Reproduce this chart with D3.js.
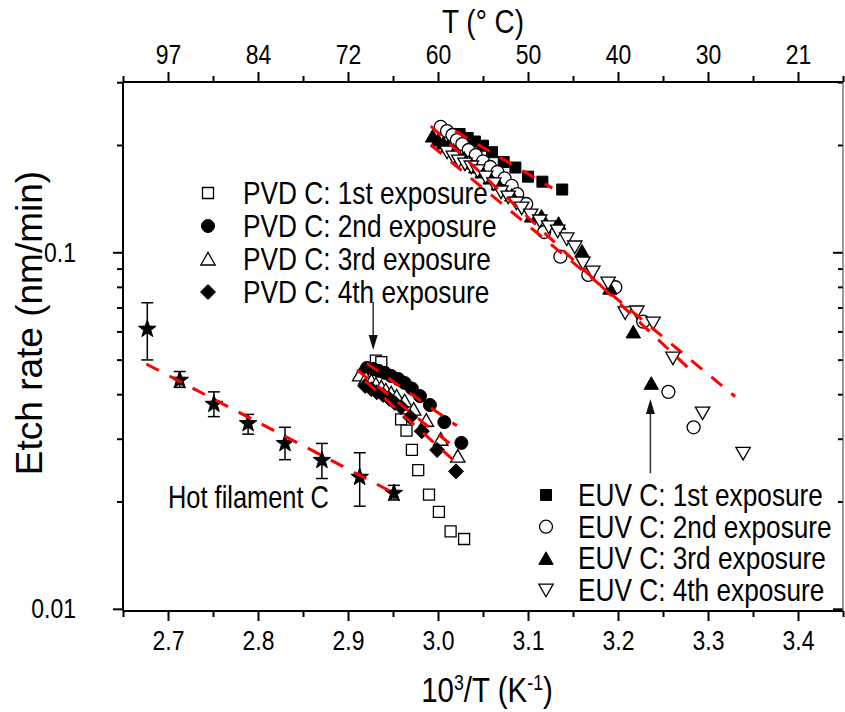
<!DOCTYPE html>
<html>
<head>
<meta charset="utf-8">
<script src="https://cdn.jsdelivr.net/npm/d3@7"></script>
<style>
  html, body { margin: 0; padding: 0; background: #fff; }
  svg { display: block; }
</style>
</head>
<body>
<svg id="chart" width="845" height="712"></svg>
<script>
// ---------- data: etch rate (nm/min) vs 1000/T (1/K) ----------
// Hot filament carbon, with error bars
const hotX   = [2.677, 2.713, 2.751, 2.789, 2.830, 2.871, 2.913, 2.951];
const hotY   = [0.0609, 0.0438, 0.0375, 0.0331, 0.0291, 0.0261, 0.0234, 0.0211];
const hotHi  = [0.0722, 0.0463, 0.0406, 0.0351, 0.0323, 0.0291, 0.0274, 0.0222];
const hotLo  = [0.0499, 0.0418, 0.0346, 0.0309, 0.0262, 0.0232, 0.0194, 0.0202];

// PVD carbon, four exposures
const pvd1X = [2.931, 2.937, 2.959, 2.965, 2.971, 2.978, 2.990, 3.001, 3.014, 3.029];
const pvd1Y = [0.0497, 0.0492, 0.0340, 0.0316, 0.0279, 0.0245, 0.0209, 0.0187, 0.0165, 0.0157];
const pvd2X = [2.921, 2.928, 2.934, 2.941, 2.948, 2.956, 2.963, 2.971, 2.980, 2.991, 3.007, 3.026];
const pvd2Y = [0.0474, 0.0471, 0.0465, 0.0459, 0.0450, 0.0441, 0.0430, 0.0415, 0.0395, 0.0373, 0.0334, 0.0292];
const pvd3X = [2.913, 2.920, 2.926, 2.931, 2.937, 2.942, 2.948, 2.954, 2.963, 2.973, 2.987, 3.003, 3.022];
const pvd3Y = [0.0453, 0.0444, 0.0436, 0.0427, 0.0419, 0.0411, 0.0403, 0.0395, 0.0383, 0.0363, 0.0338, 0.0299, 0.0268];
const pvd4X = [2.919, 2.926, 2.932, 2.939, 2.946, 2.952, 2.959, 2.969, 2.982, 2.999, 3.020];
const pvd4Y = [0.0422, 0.0413, 0.0405, 0.0398, 0.0388, 0.0378, 0.0368, 0.0345, 0.0315, 0.0279, 0.0243];

// EUV carbon, four exposures
const euv1X = [3.024, 3.033, 3.041, 3.050, 3.060, 3.073, 3.086, 3.100, 3.116, 3.138];
const euv1Y = [0.2147, 0.2092, 0.2045, 0.1991, 0.1909, 0.1792, 0.1729, 0.1630, 0.1578, 0.1500];
const euv2X = [3.003, 3.010, 3.016, 3.021, 3.027, 3.034, 3.042, 3.050, 3.058, 3.066, 3.074,
               3.082, 3.088, 3.098, 3.118, 3.136, 3.167, 3.197, 3.228, 3.256, 3.284];
const euv2Y = [0.2247, 0.2188, 0.2133, 0.2065, 0.2012, 0.1936, 0.1874, 0.1798, 0.1735, 0.1680, 0.1611,
               0.1535, 0.1457, 0.1366, 0.1140, 0.0972, 0.0864, 0.0798, 0.0639, 0.0406, 0.0323];
const euv3X = [2.994, 3.000, 3.006, 3.011, 3.017, 3.022, 3.029, 3.036, 3.042, 3.049,
               3.058, 3.067, 3.082, 3.104, 3.115, 3.134, 3.160, 3.191, 3.217, 3.237];
const euv3Y = [0.2119, 0.2065, 0.2026, 0.1987, 0.1936, 0.1886, 0.1838, 0.1780, 0.1735, 0.1680,
               0.1616, 0.1555, 0.1447, 0.1264, 0.1264, 0.1206, 0.1008, 0.0793, 0.0598, 0.0429];
const euv4X = [3.010, 3.017, 3.023, 3.030, 3.037, 3.044, 3.053, 3.062, 3.070, 3.078, 3.087, 3.093, 3.103, 3.113,
               3.123, 3.133, 3.143, 3.152, 3.161, 3.172, 3.189, 3.208, 3.221, 3.239, 3.261, 3.294, 3.339];
const euv4Y = [0.1910, 0.1850, 0.1803, 0.1768, 0.1735, 0.1691, 0.1626, 0.1555, 0.1476, 0.1429, 0.1375, 0.1331, 0.1272, 0.1224,
               0.1178, 0.1147, 0.1090, 0.1035, 0.0933, 0.0880, 0.0820, 0.0676, 0.0680, 0.0633, 0.0505, 0.0354, 0.0273];

// Arrhenius fits (end points of each straight line in log scale)
const hotFitX  = [2.676, 2.956], hotFitY  = [0.0486, 0.0208];
const pvd2FitX = [2.921, 3.021], pvd2FitY = [0.0488, 0.0326];
const pvd3FitX = [2.910, 3.013], pvd3FitY = [0.0468, 0.0291];
const pvd4FitX = [2.919, 3.021], pvd4FitY = [0.0436, 0.0256];
const euv1FitX = [3.019, 3.127], euv1FitY = [0.2188, 0.1514];
const euv2FitX = [2.992, 3.278], euv2FitY = [0.2261, 0.0474];
const euv4FitX = [2.992, 3.330], euv4FitY = [0.2000, 0.0394];

// annotation arrows: [x, y of tail, y of tip]
const pvdArrow = [2.928, 0.0725, 0.0532];
const euvArrow = [3.236, 0.0240, 0.0388];

// axis ticks
const xMajor = [2.7, 2.8, 2.9, 3.0, 3.1, 3.2, 3.3, 3.4];
const xMinor = [2.65, 2.75, 2.85, 2.95, 3.05, 3.15, 3.25, 3.35, 3.45];
const yMajor = [0.01, 0.1];
const yMinor = [0.02, 0.03, 0.04, 0.05, 0.06, 0.07, 0.08, 0.09, 0.2, 0.3];

const pvdLegend = ["PVD C: 1st exposure", "PVD C: 2nd exposure", "PVD C: 3rd exposure", "PVD C: 4th exposure"];
const euvLegend = ["EUV C: 1st exposure", "EUV C: 2nd exposure", "EUV C: 3rd exposure", "EUV C: 4th exposure"];

// ---------- fonts ----------
function hasFont(name) {
  const ctx = document.createElement("canvas").getContext("2d");
  const s = "PVD C: 1st exposure 0123456789";
  ctx.font = "40px monospace";
  const a = ctx.measureText(s).width;
  ctx.font = `40px "${name}", monospace`;
  return Math.abs(ctx.measureText(s).width - a) > 0.5;
}
const narrow = hasFont("Liberation Sans Narrow");
const FONT = narrow ? '"Liberation Sans Narrow", "Arial Narrow", sans-serif' : '"Liberation Sans", Arial, sans-serif';
const FONT_WIDE = '"Liberation Sans", Arial, sans-serif';
const K = narrow ? 1 : 0.82;   // horizontal squeeze when no narrow face exists

// ---------- layout ----------
const svg = d3.select("#chart");
const P = { left: 123, right: 843, top: 82, bottom: 611 };
const x = d3.scaleLinear().domain([2.65, 3.45]).range([P.left, P.right]);
const y = d3.scaleLog().domain([0.00986, 0.3004]).range([P.bottom, P.top]);

const zip = (xs, ys) => xs.map((v, i) => [v, ys[i]]);

// text helper; (px, py) is the anchor point
function label(g, px, py, parts, size, anchor = "start", rot = 0, wide = false) {
  const k = wide ? 1 : K;
  const t = g.append("text")
    .attr("transform", `translate(${px},${py})` + (rot ? ` rotate(${rot})` : "") + (k !== 1 ? ` scale(${k},1)` : ""))
    .attr("font-family", wide ? FONT_WIDE : FONT).attr("font-size", size)
    .attr("text-anchor", anchor).attr("fill", "#000");
  (Array.isArray(parts) ? parts : [{ s: parts }]).forEach(p => {
    const ts = t.append("tspan").text(p.s);
    if (p.sup) ts.attr("font-size", size * 0.6).attr("baseline-shift", "super");
  });
  return t;
}
function squeeze(sel) {
  if (K === 1) return;
  sel.each(function () {
    const t = d3.select(this);
    const tx = +t.attr("x") || 0, ty = +t.attr("y") || 0;
    t.attr("transform", `translate(${tx},${ty}) scale(${K},1) translate(${-tx},${-ty})`);
  });
}

// ---------- axes ----------
const axes = svg.append("g");
const AX = "#000";
const TICK_FONT = 28;

function styleAxis(g, width) {
  g.select(".domain").remove();
  g.selectAll(".tick line").attr("stroke", AX).attr("stroke-width", width);
  g.selectAll("text").attr("font-family", FONT).attr("fill", "#000");
}

// bottom
const gB = axes.append("g").attr("transform", `translate(0,${P.bottom})`)
  .call(d3.axisBottom(x).tickValues(xMajor).tickSize(10).tickPadding(9).tickFormat(d3.format(".1f")));
styleAxis(gB, 2); gB.selectAll("text").attr("font-size", TICK_FONT);
squeeze(gB.selectAll("text"));
axes.append("g").attr("transform", `translate(0,${P.bottom})`)
  .call(d3.axisBottom(x).tickValues(xMinor).tickSize(6).tickFormat(""))
  .call(g => styleAxis(g, 2));

// top: same positions, labelled in degrees Celsius
const gT = axes.append("g").attr("transform", `translate(0,${P.top})`)
  .call(d3.axisTop(x).tickValues(xMajor).tickSize(10).tickPadding(8)
    .tickFormat(d => d3.format(".0f")(1000 / d - 273)));
styleAxis(gT, 2); gT.selectAll("text").attr("font-size", TICK_FONT);
squeeze(gT.selectAll("text"));
axes.append("g").attr("transform", `translate(0,${P.top})`)
  .call(d3.axisTop(x).tickValues(xMinor).tickSize(6).tickFormat(""))
  .call(g => styleAxis(g, 2));

// left
const gL = axes.append("g").attr("transform", `translate(${P.left},0)`)
  .call(d3.axisLeft(y).tickValues(yMajor).tickSize(10).tickPadding(37).tickFormat(d => d === 0.1 ? "0.1" : "0.01"));
styleAxis(gL, 2); gL.selectAll("text").attr("font-size", TICK_FONT);
squeeze(gL.selectAll("text"));
axes.append("g").attr("transform", `translate(${P.left},0)`)
  .call(d3.axisLeft(y).tickValues(yMinor).tickSize(6).tickFormat(""))
  .call(g => styleAxis(g, 2));

// right: ticks pointing into the plot
axes.append("g").attr("transform", `translate(${P.right},0)`)
  .call(d3.axisRight(y).tickValues(yMajor).tickSize(-10).tickFormat(""))
  .call(g => styleAxis(g, 2));
axes.append("g").attr("transform", `translate(${P.right},0)`)
  .call(d3.axisRight(y).tickValues(yMinor).tickSize(-5).tickFormat(""))
  .call(g => styleAxis(g, 2));

// frame
axes.append("line").attr("x1", P.left).attr("x2", P.right).attr("y1", P.bottom).attr("y2", P.bottom)
  .attr("stroke", AX).attr("stroke-width", 2);
axes.append("line").attr("x1", P.left).attr("x2", P.right).attr("y1", P.top).attr("y2", P.top)
  .attr("stroke", AX).attr("stroke-width", 2);
axes.append("line").attr("x1", P.left).attr("x2", P.left).attr("y1", P.top).attr("y2", P.bottom)
  .attr("stroke", AX).attr("stroke-width", 2);
axes.append("line").attr("x1", P.right).attr("x2", P.right).attr("y1", P.top).attr("y2", P.bottom)
  .attr("stroke", "#555").attr("stroke-width", 1.2);

// axis titles
label(svg, 487, 702, [{ s: "10" }, { s: "3", sup: true }, { s: "/T (K" }, { s: "-1", sup: true }, { s: ")" }], 36, "middle");
label(svg, 483, 33, "T (\u00B0 C)", 34, "middle");
label(svg, 42, 323, "Etch rate (nm/min)", 37, "middle", -90, true);

// ---------- labels and legends (drawn under the data) ----------
const shapes = {
  square:  "M-5.5,-5.5H5.5V5.5H-5.5Z",
  circle:  "M6.5,0A6.5,6.5 0 1,1 -6.5,0A6.5,6.5 0 1,1 6.5,0Z",
  up:      "M0,-6.6L7.2,6H-7.2Z",
  down:    "M0,6.6L7.2,-6H-7.2Z",
  diamond: "M0,-7.5L7.5,0L0,7.5L-7.5,0Z",
  star: (() => {
    const pts = [];
    for (let i = 0; i < 10; i++) {
      const r = i % 2 ? 3.7 : 9.2, a = -Math.PI / 2 + i * Math.PI / 5;
      pts.push([r * Math.cos(a), r * Math.sin(a)]);
    }
    return "M" + pts.map(p => p.map(v => v.toFixed(2)).join(",")).join("L") + "Z";
  })()
};

label(svg, 168, 508, "Hot filament C", 31, "start");

function legend(names, shapesList, fills, mx, tx, y0, dy) {
  const g = svg.append("g");
  names.forEach((n, i) => {
    const cy = y0 + i * dy;
    g.append("path").attr("transform", `translate(${mx},${cy})`).attr("d", shapes[shapesList[i]])
      .attr("fill", fills[i] ? "#000" : "#fff").attr("stroke", "#000").attr("stroke-width", fills[i] ? 1 : 1.3);
    label(g, tx, cy + 11, n, 32, "start");
  });
}
legend(pvdLegend, ["square", "circle", "up", "diamond"], [false, true, false, true], 208, 243, 193, 33);
legend(euvLegend, ["square", "circle", "up", "down"], [true, false, true, false], 546, 578, 495, 31.7);

// ---------- markers ----------
function markers(g, pts, shape, filled) {
  g.append("g").selectAll("path").data(pts).join("path")
    .attr("transform", d => `translate(${x(d[0])},${y(d[1])})`)
    .attr("d", shapes[shape])
    .attr("fill", filled ? "#000" : "#fff")
    .attr("stroke", "#000").attr("stroke-width", filled ? 1 : 1.3);
}

const plotG = svg.append("g");

// hot filament: error bars then stars
const hotPts = hotX.map((v, i) => ({ x: v, y: hotY[i], lo: hotLo[i], hi: hotHi[i] }));
const eb = plotG.append("g").attr("stroke", "#000").attr("stroke-width", 1.5);
eb.selectAll("line.v").data(hotPts).join("line").attr("class", "v")
  .attr("x1", d => x(d.x)).attr("x2", d => x(d.x)).attr("y1", d => y(d.lo)).attr("y2", d => y(d.hi));
eb.selectAll("line.t").data(hotPts).join("line").attr("class", "t")
  .attr("x1", d => x(d.x) - 6).attr("x2", d => x(d.x) + 6).attr("y1", d => y(d.hi)).attr("y2", d => y(d.hi));
eb.selectAll("line.b").data(hotPts).join("line").attr("class", "b")
  .attr("x1", d => x(d.x) - 6).attr("x2", d => x(d.x) + 6).attr("y1", d => y(d.lo)).attr("y2", d => y(d.lo));
markers(plotG, zip(hotX, hotY), "star", true);

markers(plotG, zip(pvd1X, pvd1Y), "square", false);
markers(plotG, zip(pvd2X, pvd2Y), "circle", true);
markers(plotG, zip(pvd3X, pvd3Y), "up", false);
markers(plotG, zip(pvd4X, pvd4Y), "diamond", true);

markers(plotG, zip(euv1X, euv1Y), "square", true);
markers(plotG, zip(euv2X, euv2Y), "circle", false);
markers(plotG, zip(euv3X, euv3Y), "up", true);
markers(plotG, zip(euv4X, euv4Y), "down", false);

// fit lines
const fitLine = d3.line().x(d => x(d[0])).y(d => y(d[1]));
[[hotFitX, hotFitY], [pvd2FitX, pvd2FitY], [pvd3FitX, pvd3FitY], [pvd4FitX, pvd4FitY],
 [euv1FitX, euv1FitY], [euv2FitX, euv2FitY], [euv4FitX, euv4FitY]].forEach(([xs, ys]) => {
  plotG.append("path").attr("d", fitLine(zip(xs, ys)))
    .attr("fill", "none").attr("stroke", "#ff0000").attr("stroke-width", 3)
    .attr("stroke-dasharray", "14 12");
});

// arrows
function arrow(g, a) {
  const ax = x(a[0]), y0 = y(a[1]), y1 = y(a[2]);
  const dir = Math.sign(y1 - y0);
  g.append("line").attr("x1", ax).attr("x2", ax).attr("y1", y0).attr("y2", y1 - dir * 10)
    .attr("stroke", "#333").attr("stroke-width", 1.5);
  g.append("path")
    .attr("d", `M${ax},${y1}L${ax - 4.5},${y1 - dir * 15}L${ax + 4.5},${y1 - dir * 15}Z`)
    .attr("fill", "#111");
}
arrow(plotG, pvdArrow);
arrow(plotG, euvArrow);
</script>
</body>
</html>
